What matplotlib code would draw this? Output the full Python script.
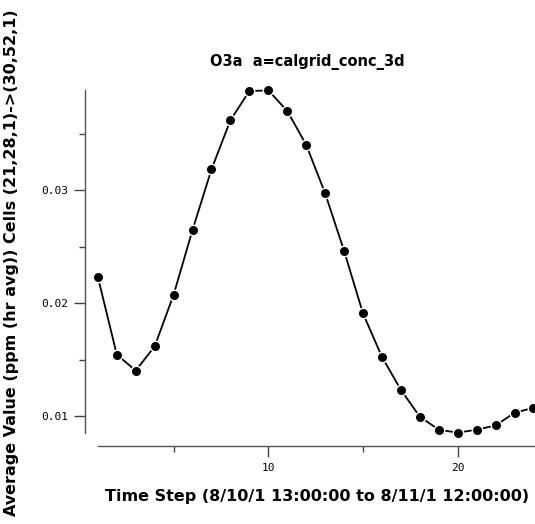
import numpy as np
import matplotlib
matplotlib.use("Agg")
import matplotlib.pyplot as plt
from matplotlib.ticker import FixedLocator

# time steps and hourly ozone values
steps = list(range(1, 25))
o3_values = [0.02232, 0.01544, 0.01402, 0.01617, 0.02073, 0.02647, 0.03183, 0.03618,
             0.03876, 0.03882, 0.03700, 0.03400, 0.02971, 0.02462, 0.01908, 0.01523,
             0.01232, 0.00994, 0.00879, 0.00853, 0.00879, 0.00917, 0.01029, 0.01073]
x_major = [10, 20]
x_minor = [5, 15]
y_major = [0.01, 0.02, 0.03]
y_minor = [0.015, 0.025, 0.035]

title = "O3a  a=calgrid_conc_3d"
xlabel = "Time Step (8/10/1 13:00:00 to 8/11/1 12:00:00)"
ylabel = "Average Value (ppm (hr avg)) Cells (21,28,1)->(30,52,1)"

W, H = 535, 524
fig = plt.figure(figsize=(W / 100, H / 100), dpi=100)
ax = fig.add_axes([85 / W, (H - 446) / H, 450 / W, 358 / H])

ax.plot(steps, o3_values, color="black", lw=1.3, marker="o", ms=7.5,
        mfc="black", mec="white", mew=1.0, clip_on=False, zorder=3)

ax.set_xlim(0.322, 24.08)
ax.set_ylim(0.00735, 0.03903)

for s in ["top", "right"]:
    ax.spines[s].set_visible(False)
for s in ["left", "bottom"]:
    ax.spines[s].set_color("#555555")
    ax.spines[s].set_linewidth(1.0)
ax.spines["left"].set_bounds(min(o3_values), max(o3_values))
ax.spines["bottom"].set_bounds(1, 24.08)

ax.xaxis.set_major_locator(FixedLocator(x_major))
ax.xaxis.set_minor_locator(FixedLocator(x_minor))
ax.yaxis.set_major_locator(FixedLocator(y_major))
ax.yaxis.set_minor_locator(FixedLocator(y_minor))
ax.set_xticklabels([str(v) for v in x_major])
ax.set_yticklabels([f"{v:.2f}" for v in y_major])

ax.tick_params(axis="both", which="major", length=8, width=1.0, color="#444444",
               labelsize=8, pad=4)
ax.tick_params(axis="both", which="minor", length=4.5, width=1.0, color="#444444")
for lab in ax.get_xticklabels() + ax.get_yticklabels():
    lab.set_family("DejaVu Sans Mono")

fig.text(307 / W, 1 - 62 / H, title, ha="center", va="center",
         fontsize=10.5, family="DejaVu Sans", fontweight="bold")
fig.text(317 / W, 1 - 497 / H, xlabel, ha="center", va="center",
         fontsize=11.5, family="DejaVu Sans", fontweight="bold")
fig.text(12 / W, 1 - 263 / H, ylabel, ha="center", va="center", rotation=90,
         fontsize=11.5, family="DejaVu Sans", fontweight="bold")

fig.savefig("out.png", dpi=100)
